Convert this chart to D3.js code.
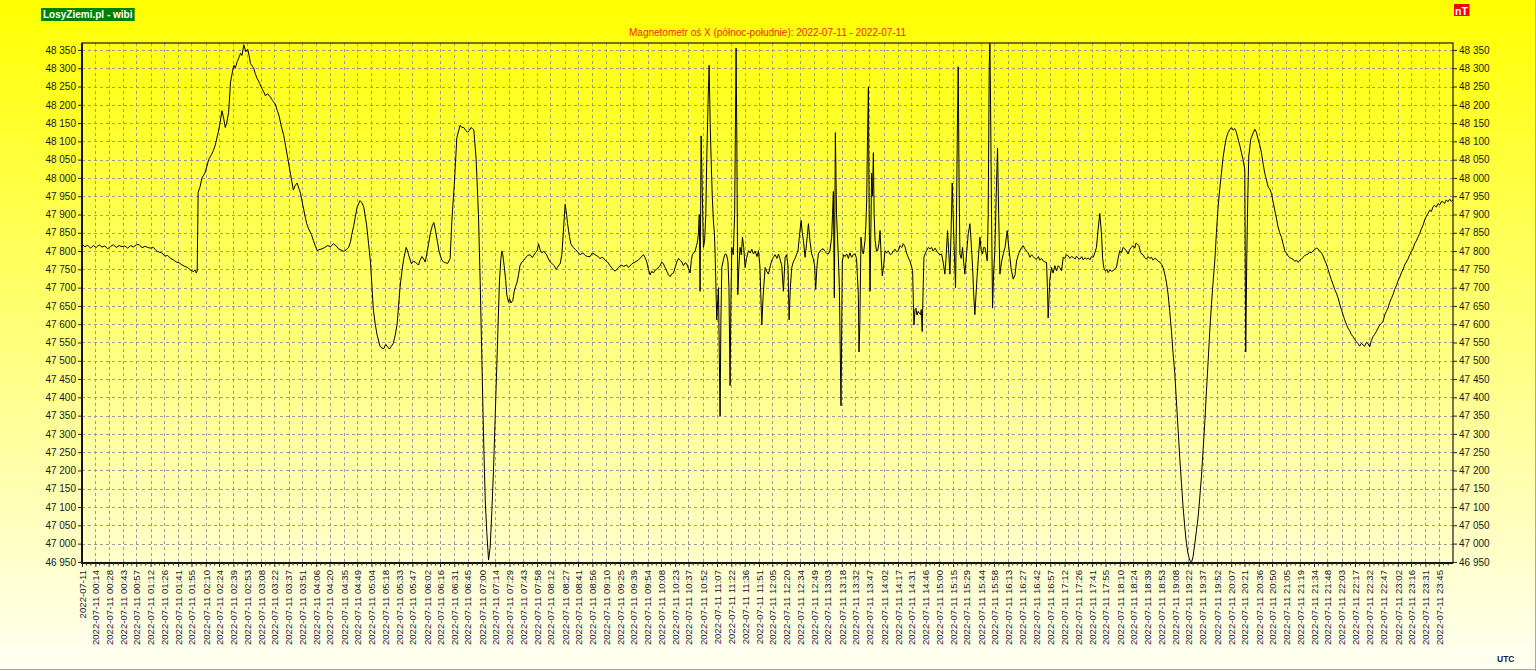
<!DOCTYPE html>
<html>
<head>
<meta charset="utf-8">
<script src="https://cdn.jsdelivr.net/npm/d3@7/dist/d3.min.js"></script>
<style>
  html, body { margin: 0; padding: 0; background: #fff; }
  svg { display: block; font-family: "Liberation Sans", Arial, sans-serif; }
</style>
</head>
<body>
<svg id="chart" width="1536" height="671"></svg>
<script>
// ---------------- DATA ----------------
const chartTitle = "Magnetometr oś X (północ-południe): 2022-07-11 - 2022-07-11";
const logoText = "LosyZiemi.pl - wibi";
const unitText = "nT";
const timeZoneText = "UTC";

const xTickLabels = ["2022-07-11",
"2022-07-11 00:14","2022-07-11 00:28","2022-07-11 00:43","2022-07-11 00:57","2022-07-11 01:12","2022-07-11 01:26","2022-07-11 01:41","2022-07-11 01:55","2022-07-11 02:10","2022-07-11 02:24",
"2022-07-11 02:39","2022-07-11 02:53","2022-07-11 03:08","2022-07-11 03:22","2022-07-11 03:37","2022-07-11 03:51","2022-07-11 04:06","2022-07-11 04:20","2022-07-11 04:35","2022-07-11 04:49",
"2022-07-11 05:04","2022-07-11 05:18","2022-07-11 05:33","2022-07-11 05:47","2022-07-11 06:02","2022-07-11 06:16","2022-07-11 06:31","2022-07-11 06:45","2022-07-11 07:00","2022-07-11 07:14",
"2022-07-11 07:29","2022-07-11 07:43","2022-07-11 07:58","2022-07-11 08:12","2022-07-11 08:27","2022-07-11 08:41","2022-07-11 08:56","2022-07-11 09:10","2022-07-11 09:25","2022-07-11 09:39",
"2022-07-11 09:54","2022-07-11 10:08","2022-07-11 10:23","2022-07-11 10:37","2022-07-11 10:52","2022-07-11 11:07","2022-07-11 11:22","2022-07-11 11:36","2022-07-11 11:51","2022-07-11 12:05",
"2022-07-11 12:20","2022-07-11 12:34","2022-07-11 12:49","2022-07-11 13:03","2022-07-11 13:18","2022-07-11 13:32","2022-07-11 13:47","2022-07-11 14:02","2022-07-11 14:17","2022-07-11 14:31",
"2022-07-11 14:46","2022-07-11 15:00","2022-07-11 15:15","2022-07-11 15:29","2022-07-11 15:44","2022-07-11 15:58","2022-07-11 16:13","2022-07-11 16:27","2022-07-11 16:42","2022-07-11 16:57",
"2022-07-11 17:12","2022-07-11 17:26","2022-07-11 17:41","2022-07-11 17:55","2022-07-11 18:10","2022-07-11 18:24","2022-07-11 18:39","2022-07-11 18:53","2022-07-11 19:08","2022-07-11 19:22",
"2022-07-11 19:37","2022-07-11 19:52","2022-07-11 20:07","2022-07-11 20:21","2022-07-11 20:36","2022-07-11 20:50","2022-07-11 21:05","2022-07-11 21:19","2022-07-11 21:34","2022-07-11 21:48",
"2022-07-11 22:03","2022-07-11 22:17","2022-07-11 22:32","2022-07-11 22:47","2022-07-11 23:02","2022-07-11 23:16","2022-07-11 23:31","2022-07-11 23:45"];

const yTickValues = d3.range(46950, 48351, 50);
const yDomain = [46947, 48369];
const xDomainMinutes = [0, 1440];

// [minutes since 00:00 UTC, field X in nT]
const readings = [
[0,47818],[3,47812],[6,47816],[9,47808],[12,47815],[15,47810],[18,47817],[21,47811],[24,47814],[27,47806],
[30,47813],[33,47817],[36,47810],[39,47815],[42,47812],[45,47814],[48,47808],[51,47815],[54,47811],[57,47817],
[60,47818],[63,47809],[66,47813],[69,47810],[72,47808],[75,47810],[78,47801],[81,47797],[84,47795],[87,47786],
[90,47788],[93,47780],[96,47776],[99,47770],[102,47768],[105,47762],[108,47758],[111,47755],[114,47748],[117,47744],
[119,47748],[120,47740],[121,47745],[122,47960],[124,47976],[126,48000],[129,48013],[131,48030],[133,48050],[136,48064],
[138,48075],[140,48090],[143,48124],[145,48150],[147,48184],[149,48160],[150.5,48138],[152,48150],[154,48179],[156,48262],
[158,48290],[159.5,48308],[161,48300],[163,48318],[165,48330],[166.5,48341],[168,48335],[170,48364],[172,48345],[174,48352],
[175.5,48335],[177,48313],[179,48305],[180.5,48299],[182,48285],[184,48272],[186,48262],[189,48244],[191,48235],[192.5,48225],
[195,48230],[198,48221],[200,48212],[203,48202],[205,48185],[207,48170],[209,48145],[212,48115],[214,48085],[217,48041],
[219,48010],[222,47967],[224,47980],[226,47986],[228,47970],[229.5,47958],[232,47925],[234.5,47893],[236,47875],[238,47861],
[241,47845],[243,47829],[245,47815],[247,47801],[249,47804],[252,47806],[255,47810],[258,47815],[261,47812],[264,47820],
[267,47814],[269.5,47806],[272,47803],[275,47799],[278,47805],[280,47810],[282,47825],[283.5,47847],[285.5,47870],[287,47893],
[289,47920],[292,47938],[294,47932],[296,47920],[299,47870],[301,47820],[303,47770],[306,47640],[308,47600],[310,47570],
[313,47540],[315,47535],[317,47533],[319,47545],[321,47538],[323,47532],[325,47540],[327,47548],[329,47570],[331,47600],
[334,47700],[336,47745],[338,47780],[340.5,47810],[342,47800],[343,47790],[346,47765],[348,47772],[350,47770],[352,47765],
[353.5,47762],[355,47775],[357,47785],[359,47778],[360.5,47770],[362,47790],[364,47820],[366,47850],[368,47870],[369.5,47878],
[371,47860],[373,47830],[375,47800],[376,47790],[378,47775],[380,47770],[382,47768],[384,47766],[386.7,47780],[388.4,47880],
[391,47980],[393.7,48110],[395.5,48128],[397.2,48144],[399,48138],[401,48138],[403,48130],[405,48125],[407,48130],[408.5,48138],
[410,48135],[411.5,48132],[414,48050],[416.4,47900],[418.2,47720],[420,47500],[421.7,47300],[423.5,47120],[425.2,47030],[427,46955],
[428.7,46990],[430.5,47090],[432.2,47200],[435,47430],[436.8,47580],[438.5,47720],[440,47780],[441,47800],[442,47790],[443.4,47760],
[445,47720],[446.2,47680],[448,47660],[449,47670],[450.5,47658],[452.5,47665],[454,47690],[455,47700],[457,47715],[458.5,47735],
[460,47760],[462,47770],[464,47775],[465.5,47780],[468,47788],[470.7,47790],[473,47782],[476,47795],[478,47800],[479.5,47820],
[481,47805],[483,47795],[485,47800],[488,47790],[490,47778],[491.7,47770],[494,47765],[496,47760],[498,47750],[499.4,47755],
[501,47762],[502.2,47765],[504,47790],[505,47830],[506.5,47890],[507.5,47928],[509,47900],[510,47875],[512,47840],[513.4,47820],
[516,47810],[518,47805],[520,47800],[523,47790],[526,47795],[528.5,47788],[531,47785],[533.7,47785],[536,47795],[539,47790],
[542,47785],[544,47780],[547,47783],[549.5,47775],[552,47770],[554.7,47760],[557,47752],[560,47745],[563.5,47755],[566,47762],
[569,47758],[572,47762],[574,47755],[577.5,47765],[581,47770],[584,47775],[586.2,47780],[588,47786],[589.7,47790],[591.5,47782],
[593.2,47770],[595,47750],[596.7,47735],[598.5,47745],[600.2,47740],[602,47748],[603.7,47750],[605.5,47756],[607.2,47760],[609,47770],
[610.7,47765],[612.5,47755],[614.2,47745],[616,47735],[617.7,47730],[619.5,47738],[621.2,47740],[623,47755],[624.7,47770],[626.5,47780],
[628.2,47775],[630,47770],[631.7,47760],[633.5,47768],[635.2,47765],[637,47752],[638.7,47740],[640,47775],[641.1,47790],[643.9,47800],
[645.5,47815],[646.7,47830],[647.5,47850],[648.3,47900],[649.2,47690],[650.3,48115],[651.5,47960],[652.7,47810],[654,47830],[655.2,47900],
[656.2,48050],[657.5,48200],[658.7,48308],[659.8,48150],[660.8,48050],[662,47950],[663.2,47880],[664.2,47850],[665,47792],[666.7,47612],
[668.5,47700],[670.2,47349],[671,47600],[672,47755],[674,47780],[675.5,47792],[677,47790],[678.5,47770],[679.5,47700],[680.7,47432],
[681.5,47650],[682.5,47810],[684,47790],[685.5,47900],[687,48355],[687.8,48100],[688.8,47681],[690,47760],[691.2,47810],[692.5,47790],
[693.7,47838],[695,47810],[696.5,47755],[698,47780],[700,47801],[702,47795],[703.5,47805],[705.2,47792],[707,47800],[709,47785],
[710.5,47801],[712,47760],[714,47598],[715.5,47680],[717.5,47755],[719,47745],[721,47737],[723,47760],[724.5,47775],[726.2,47783],
[728,47790],[730,47780],[731.5,47792],[733,47780],[735,47760],[736.7,47690],[738.5,47783],[740,47790],[741.5,47760],[742.7,47612],
[744,47700],[745.5,47755],[747,47770],[749,47780],[750.7,47792],[752,47800],[753.5,47840],[755.3,47884],[756.5,47850],[757.7,47829],
[759.5,47783],[761,47820],[763,47875],[764.5,47830],[766.4,47792],[768,47780],[769.5,47760],[770.6,47695],[772,47760],[773.4,47792],
[775,47800],[777,47805],[778.7,47806],[780,47800],[782,47795],[784,47792],[785.5,47800],[787.4,47838],[788.3,47900],[789.2,47963],
[790.2,47672],[791.3,48124],[792.5,47900],[794.4,47783],[795.5,47700],[797.2,47377],[798.6,47773],[800,47790],[801.5,47785],[803.2,47792],
[805,47780],[806.5,47795],[808.4,47783],[810,47790],[811.9,47792],[813.5,47780],[815.4,47681],[816.1,47524],[817,47600],[818.2,47838],
[819.5,47800],[820.7,47792],[822.4,47829],[823.3,47870],[824.2,47940],[825,48100],[826,48249],[826.8,47900],[827.7,47690],[828.5,47850],
[829.4,48013],[830.3,47950],[831.2,48069],[832,47900],[833,47829],[834.5,47800],[835.7,47801],[837,47820],[838.2,47856],[839.5,47780],
[840.6,47732],[842,47760],[843.4,47801],[845,47795],[847,47800],[849,47790],[850.4,47792],[852,47800],[854,47805],[855.5,47798],
[857.4,47801],[859.1,47815],[861,47810],[862.6,47820],[864.4,47812],[866,47795],[867.8,47783],[870,47770],[872.4,47746],[873.2,47660],
[873.8,47598],[875,47640],[875.9,47644],[877,47625],[878.3,47635],[879.5,47630],[880.8,47626],[881.5,47640],[882.5,47580],[883.5,47700],
[884.3,47783],[886,47795],[887.1,47801],[889,47810],[890.5,47806],[892.3,47810],[894,47800],[896,47808],[897.6,47801],[899,47795],
[901,47790],[902.8,47792],[904.5,47770],[906.3,47737],[907.5,47780],[909.1,47856],[910.3,47800],[911.6,47737],[912.8,47850],[914,47986],
[915,47900],[915.8,47829],[916.7,47760],[917.5,47700],[918.5,47900],[919.5,48150],[920.3,48304],[921.2,48000],[922.1,47792],[923.5,47780],
[924.9,47810],[926,47770],[927.3,47737],[929,47790],[930.8,47847],[931.7,47860],[932.6,47875],[934,47820],[935.4,47755],[936.6,47680],
[937.8,47626],[939,47680],[940.3,47737],[941.7,47790],[943.1,47838],[944.5,47800],[945.9,47792],[947,47810],[948.3,47810],[949.5,47795],
[950.8,47773],[951.8,47900],[952.9,48308],[953.6,48368],[954.3,48200],[955.3,47900],[956.4,47644],[957.5,47740],[958.8,47801],[960.2,47950],
[961.6,48082],[962.8,47900],[964.1,47737],[965.8,47770],[967.6,47792],[969.5,47810],[971,47840],[971.8,47856],[973,47820],[974.6,47783],
[976,47750],[978.1,47723],[980,47735],[981.6,47773],[983.5,47790],[985.1,47801],[987,47810],[988.5,47815],[990.3,47806],[992,47800],
[993.8,47795],[995.6,47783],[997.5,47790],[999,47785],[1000.8,47780],[1002.6,47778],[1004.5,47785],[1006,47775],[1007.8,47780],[1009.6,47773],
[1011.4,47770],[1013.1,47769],[1014,47700],[1014.8,47617],[1016.5,47720],[1018.3,47755],[1020,47740],[1021.8,47760],[1023.6,47746],[1025.4,47760],
[1027,47755],[1028.8,47746],[1030.6,47783],[1032.3,47780],[1034,47790],[1035.8,47787],[1037.5,47780],[1039.3,47785],[1041.1,47783],[1043,47778],
[1044.6,47786],[1046.4,47780],[1048.1,47778],[1050,47785],[1051.6,47776],[1053.4,47782],[1055.1,47778],[1057,47781],[1058.6,47776],[1060.4,47785],
[1062.1,47783],[1063.8,47795],[1065.5,47810],[1067.3,47860],[1069,47903],[1070.8,47847],[1072,47780],[1073.2,47755],[1075,47745],[1076.5,47750],
[1077.8,47741],[1079.6,47748],[1081.3,47745],[1083,47746],[1084.8,47752],[1086.5,47755],[1088.2,47780],[1090,47801],[1091.7,47795],[1093.5,47810],
[1095.3,47806],[1097,47800],[1098.8,47792],[1100.5,47805],[1102.3,47810],[1104,47815],[1105.8,47808],[1107,47822],[1108.2,47820],[1110,47815],
[1111.5,47800],[1112.8,47792],[1114.5,47790],[1116.2,47782],[1118,47778],[1119.8,47785],[1121.5,47780],[1123.3,47783],[1125,47775],[1126.8,47780],
[1128.5,47778],[1130.3,47772],[1132,47770],[1133.8,47764],[1135.5,47755],[1137.3,47737],[1139,47715],[1140.8,47681],[1142.5,47635],[1144.3,47580],
[1146,47520],[1147.8,47465],[1149.5,47390],[1151.3,47310],[1153,47235],[1154.8,47165],[1156.5,47100],[1158.3,47045],[1160,47000],[1161.8,46971],
[1163.5,46955],[1165.3,46948],[1167,46965],[1168.8,46999],[1170.5,47035],[1172.3,47073],[1174,47125],[1175.8,47184],[1177.5,47255],[1179.3,47331],
[1181,47415],[1182.8,47498],[1184.5,47580],[1186.3,47654],[1188,47715],[1189.8,47773],[1191.5,47850],[1193.3,47921],[1195,47970],[1196.8,48013],
[1198.5,48055],[1200.3,48087],[1202,48110],[1203.8,48124],[1205.5,48132],[1207.3,48138],[1209,48131],[1210.8,48135],[1212.5,48125],[1214.3,48106],
[1216,48090],[1217.8,48069],[1219.5,48050],[1221.3,48023],[1222.3,47524],[1223.4,47783],[1224.5,47950],[1225.5,48060],[1227.6,48106],[1229.7,48120],
[1231.8,48133],[1233.5,48125],[1235.3,48106],[1237,48090],[1238.8,48069],[1240.5,48040],[1242.3,48013],[1244,47995],[1245.8,47976],[1247.5,47970],
[1249.3,47958],[1251,47935],[1252.8,47912],[1254.5,47890],[1256.3,47866],[1258,47850],[1259.8,47838],[1261.5,47820],[1263.3,47801],[1265,47795],
[1266.8,47787],[1268.5,47782],[1270.2,47780],[1272,47778],[1273.8,47772],[1275.5,47775],[1277.3,47769],[1279,47775],[1280.8,47778],[1282.5,47783],
[1284.2,47788],[1286,47790],[1287.8,47792],[1289.5,47798],[1291.2,47795],[1293,47801],[1294.8,47804],[1296.5,47808],[1298.3,47806],[1300,47800],
[1301.8,47795],[1303.5,47787],[1305.2,47775],[1307,47765],[1308.8,47750],[1310.5,47735],[1312.2,47722],[1314,47709],[1315.8,47695],[1317.5,47685],
[1319.3,47672],[1321,47655],[1322.8,47640],[1324.5,47626],[1326.2,47612],[1328,47600],[1329.8,47589],[1331.5,47582],[1333.2,47572],[1335,47566],
[1336.8,47558],[1338.5,47552],[1340.2,47547],[1342,47540],[1343.8,47548],[1345.5,47543],[1347.2,47540],[1349,47550],[1350.7,47547],[1352.5,47538],
[1354.2,47555],[1356,47566],[1357.7,47572],[1359.5,47580],[1361.2,47589],[1363,47598],[1364.7,47602],[1366.5,47607],[1368.2,47625],[1370,47635],
[1371.7,47644],[1373.5,47660],[1375.2,47670],[1377,47681],[1378.7,47695],[1380.5,47705],[1382.2,47718],[1384,47728],[1385.7,47740],[1387.5,47750],
[1389.2,47762],[1391,47770],[1392.7,47778],[1394.5,47790],[1396.2,47798],[1398,47806],[1399.7,47820],[1401.5,47828],[1403.2,47838],[1405,47848],
[1406.7,47860],[1408.5,47870],[1410.2,47885],[1412,47895],[1413.7,47903],[1415.5,47912],[1417.2,47908],[1419,47921],[1420.7,47925],[1422.5,47920],
[1424.2,47930],[1426,47926],[1427.7,47935],[1429.5,47935],[1431.2,47930],[1433,47940],[1434.7,47935],[1436.5,47942],[1438.2,47936],[1440,47940]
];

// ---------------- LAYOUT ----------------
const W = 1536, H = 671;
const plot = { left: 82, right: 1453, top: 43, bottom: 563 };
const FONT = '"Liberation Sans", Arial, sans-serif';

const svg = d3.select("#chart");
const defs = svg.append("defs");
const grad = defs.append("linearGradient").attr("id", "bg").attr("x1", 0).attr("y1", 0).attr("x2", 0).attr("y2", 1);
grad.append("stop").attr("offset", "0%").attr("stop-color", "#ffff00");
grad.append("stop").attr("offset", "100%").attr("stop-color", "#fffff4");
defs.append("clipPath").attr("id", "clip").append("rect")
  .attr("x", plot.left).attr("y", plot.top - 1)
  .attr("width", plot.right - plot.left).attr("height", plot.bottom - plot.top + 2);

svg.append("rect").attr("width", W).attr("height", H).attr("fill", "url(#bg)");
// outer gray edges (right, bottom)
svg.append("line").attr("x1", 0).attr("x2", W).attr("y1", H - 1.5).attr("y2", H - 1.5).attr("stroke", "#a8a8a8").attr("stroke-width", 1);
svg.append("line").attr("x1", W - 0.5).attr("x2", W - 0.5).attr("y1", 0).attr("y2", H).attr("stroke", "#a8a8a8").attr("stroke-width", 1);

const x = d3.scaleLinear().domain(xDomainMinutes).range([plot.left, plot.right]);
const y = d3.scaleLinear().domain(yDomain).range([plot.bottom, plot.top]);

const tickMinutes = xTickLabels.map(l => {
  const m = l.match(/(\d\d):(\d\d)$/);
  return m ? (+m[1]) * 60 + (+m[2]) : 0;
});

// grid
const grid = svg.append("g").attr("stroke", "#9a9a9a").attr("stroke-width", 1).attr("stroke-dasharray", "3,3");
grid.selectAll("line.v").data(tickMinutes.slice(1)).join("line").attr("class", "v")
  .attr("x1", d => Math.round(x(d)) + 0.5).attr("x2", d => Math.round(x(d)) + 0.5)
  .attr("y1", plot.top).attr("y2", plot.bottom);
grid.selectAll("line.h").data(yTickValues).join("line").attr("class", "h")
  .attr("x1", plot.left).attr("x2", plot.right)
  .attr("y1", d => Math.round(y(d)) + 0.5).attr("y2", d => Math.round(y(d)) + 0.5);

// data line
const line = d3.line().x(d => x(d[0])).y(d => y(d[1]));
svg.append("path").datum(readings)
  .attr("clip-path", "url(#clip)")
  .attr("fill", "none").attr("stroke", "#000").attr("stroke-width", 1)
  .attr("stroke-linejoin", "round")
  .attr("d", line);

// frame
svg.append("rect").attr("x", plot.left).attr("y", plot.top)
  .attr("width", plot.right - plot.left).attr("height", plot.bottom - plot.top)
  .attr("fill", "none").attr("stroke", "#1a1a1a").attr("stroke-width", 1.2);
svg.append("line").attr("x1", plot.left).attr("x2", plot.left).attr("y1", plot.top).attr("y2", plot.bottom + 1)
  .attr("stroke", "#111").attr("stroke-width", 2);
svg.append("line").attr("x1", plot.left - 1).attr("x2", plot.right).attr("y1", plot.bottom).attr("y2", plot.bottom)
  .attr("stroke", "#111").attr("stroke-width", 2);

// axes
const fmtLocale = d3.formatLocale({ decimal: ",", thousands: " ", grouping: [3], currency: ["", ""] });
const yFmt = fmtLocale.format(",d");

const yLeft = svg.append("g").attr("transform", `translate(${plot.left},0)`)
  .call(d3.axisLeft(y).tickValues(yTickValues).tickFormat(yFmt).tickSize(4).tickPadding(2));
const yRight = svg.append("g").attr("transform", `translate(${plot.right},0)`)
  .call(d3.axisRight(y).tickValues(yTickValues).tickFormat(yFmt).tickSize(4).tickPadding(2));
[yLeft, yRight].forEach(g => {
  g.select(".domain").remove();
  g.selectAll("line").attr("stroke", "#222");
  g.selectAll("text").attr("fill", "#1a1a1a").style("font-family", FONT).style("font-size", "10px");
});

const xAxis = svg.append("g").attr("transform", `translate(0,${plot.bottom})`)
  .call(d3.axisBottom(x).tickValues(tickMinutes).tickFormat((d, i) => xTickLabels[i]).tickSize(4).tickPadding(2));
xAxis.select(".domain").remove();
xAxis.selectAll("line").attr("stroke", "#222");
xAxis.selectAll("text")
  .attr("fill", "#14143a").style("font-family", FONT).style("font-size", "9.6px")
  .attr("text-anchor", "end").attr("dy", "0.35em")
  .attr("transform", "rotate(-90)")
  .attr("x", -7).attr("y", 0);

// minor ticks on x axis
const minor = [];
for (let i = 0; i < tickMinutes.length; i++) {
  const a = tickMinutes[i], b = i + 1 < tickMinutes.length ? tickMinutes[i + 1] : xDomainMinutes[1];
  for (let k = 1; k < 3; k++) minor.push(a + (b - a) * k / 3);
}
svg.append("g").selectAll("line").data(minor).join("line")
  .attr("x1", d => x(d)).attr("x2", d => x(d))
  .attr("y1", plot.bottom).attr("y2", plot.bottom + 2.5)
  .attr("stroke", "#333").attr("stroke-width", 1);

// title
svg.append("text").attr("x", (plot.left + plot.right) / 2).attr("y", 36)
  .attr("text-anchor", "middle").attr("fill", "#f02a10")
  .style("font-family", FONT).style("font-size", "10px").text(chartTitle);

// logo
const logo = svg.append("g");
const logoT = logo.append("text").attr("x", 43).attr("y", 18)
  .attr("fill", "#fff").style("font-family", FONT).style("font-size", "10px").style("font-weight", "bold")
  .text(logoText);
const lb = logoT.node().getBBox();
logo.insert("rect", "text").attr("x", lb.x - 2).attr("y", 8).attr("width", lb.width + 4).attr("height", 13)
  .attr("fill", "#008000");

// unit badge
const unit = svg.append("g");
const unitT = unit.append("text").attr("x", 1455).attr("y", 15)
  .attr("fill", "#fff").style("font-family", FONT).style("font-size", "10.5px").style("font-weight", "bold")
  .text(unitText);
const ub = unitT.node().getBBox();
unit.insert("rect", "text").attr("x", ub.x - 1).attr("y", 4).attr("width", ub.width + 2).attr("height", 12)
  .attr("fill", "#ff0000");

// UTC
svg.append("text").attr("x", 1497).attr("y", 662)
  .attr("fill", "#1a1a40").style("font-family", FONT).style("font-size", "8.5px").style("font-weight", "bold")
  .text(timeZoneText);
</script>
</body>
</html>
